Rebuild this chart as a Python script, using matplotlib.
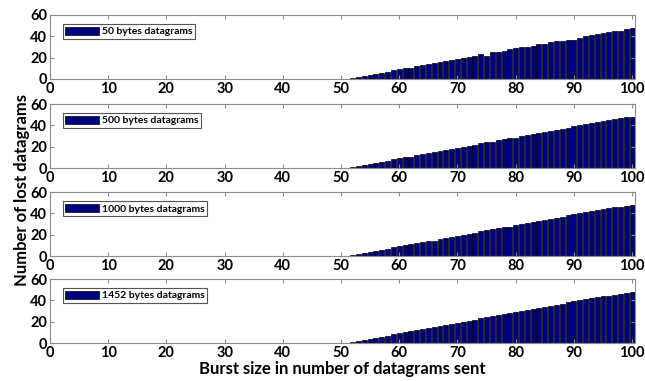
import matplotlib.pyplot as plt

# burst sizes where datagrams start getting lost (below 52 nothing is lost)
bursts = list(range(52, 101))

lost_50 = [1, 2, 3, 4, 5, 6, 7, 8, 9, 10, 10.5, 12, 13, 14, 15, 15.5, 17, 18, 19, 20,
           21, 22, 23, 22, 25, 25, 26, 28, 29, 30, 30, 31, 33, 33, 35, 36, 36, 37, 37, 38,
           40, 41, 42, 43, 44, 45, 45, 47, 48]
lost_500 = [1, 2, 3, 4, 5, 6, 7, 8, 9, 10, 10.5, 12, 13, 14, 15, 16, 17, 18, 19, 19.5,
            21, 22, 23, 24, 24.5, 26, 27, 28, 28.5, 30, 31, 32, 33, 34, 35, 36, 37, 37.5, 39, 40,
            41, 42, 43, 44, 45, 46, 47, 48, 48]
lost_1000 = [1, 2, 3, 4, 5, 6, 7, 8, 9, 10, 11, 12, 13, 14, 14.5, 16, 17, 18, 19, 19.5,
             21, 22, 23, 24, 25, 26, 27, 27.5, 29, 30, 31, 32, 33, 33.5, 35, 36, 37, 38, 39, 40,
             41, 42, 43, 44, 45, 46, 46, 47, 48]
lost_1452 = [1, 2, 3, 4, 5, 6, 7, 8, 9, 10, 11, 12, 13, 14, 15, 16, 17, 18, 19, 20,
             21, 22, 23, 24, 25, 26, 27, 28, 29, 30, 31, 32, 33, 34, 35, 36, 37, 38, 39, 40,
             41, 42, 43, 44, 44, 45, 46, 47, 48]

series = [lost_50, lost_500, lost_1000, lost_1452]
labels = ["50 bytes datagrams", "500 bytes datagrams",
          "1000 bytes datagrams", "1452 bytes datagrams"]

plt.rcParams['font.family'] = ['Lato', 'DejaVu Sans']
plt.rcParams['font.weight'] = 'bold'

fig = plt.figure(figsize=(6.45, 3.81), dpi=100)
bottoms = [0.7927, 0.559, 0.328, 0.0997]
bar_color = "#00007f"
spine_color = "#8c8c8c"

for bottom, values, label in zip(bottoms, series, labels):
    ax = fig.add_axes([0.0775, bottom, 0.907, 0.168])
    ax.bar(bursts, values, width=0.85, color=bar_color, edgecolor="black",
           linewidth=0.5, label=label)
    ax.set_xlim(0, 100.5)
    ax.set_ylim(0, 60)
    ax.set_xticks(range(0, 101, 10))
    ax.set_yticks([0, 20, 40, 60])
    ax.tick_params(direction="in", top=True, right=True, length=3,
                   color=spine_color, labelsize=10.5, pad=2)
    for lbl in ax.get_xticklabels() + ax.get_yticklabels():
        lbl.set_fontweight("bold")
    for sp in ax.spines.values():
        sp.set_color(spine_color)
    leg = ax.legend(loc="upper left", bbox_to_anchor=(0.022, 0.86), fontsize=7.5,
                    fancybox=False, framealpha=1, edgecolor="#555555",
                    handlelength=3.2, handleheight=0.9, handletextpad=0.3,
                    borderpad=0.25, borderaxespad=0)
    leg.get_frame().set_linewidth(0.8)
    for t in leg.get_texts():
        t.set_fontweight("bold")

fig.text(0.531, 0.018, "Burst size in number of datagrams sent", ha="center",
         fontsize=12, fontweight="bold")
fig.text(0.022, 0.5, "Number of lost datagrams", va="center", rotation=90,
         fontsize=12, fontweight="bold")

fig.savefig("out.png", dpi=100)
